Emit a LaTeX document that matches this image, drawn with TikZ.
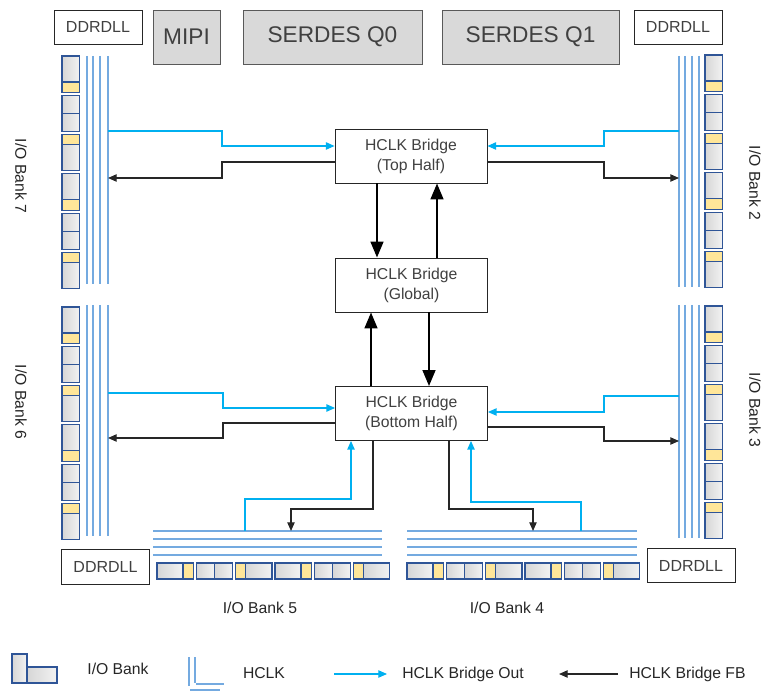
\documentclass[tikz,border=0pt]{standalone}
\usepackage{fontspec}
\setmainfont{Liberation Sans}
\usetikzlibrary{arrows.meta}
\definecolor{cellbd}{RGB}{47,85,151}
\definecolor{celly}{RGB}{255,230,153}
\definecolor{hclkc}{RGB}{116,170,224}
\definecolor{outc}{RGB}{0,176,240}
\definecolor{fbc}{RGB}{38,38,38}
\definecolor{txtc}{RGB}{64,64,64}
\definecolor{blockf}{RGB}{217,217,217}
\definecolor{blockd}{RGB}{89,89,89}
\newcommand\cellrun{0/26/gcell,26/36.3/ycell,39.3/57.45/gcell,57.45/75.6/gcell,78.6/88.6/ycell,88.6/114.9/gcell,117.9/143.9/gcell,143.9/154.2/ycell,157.2/175.35/gcell,175.35/193.5/gcell,196.5/206.5/ycell,206.5/232.8/gcell}
\newcommand\vbank[2]{\foreach \a/\b/\c in \cellrun {\draw[\c] (#1,#2+\a) rectangle (#1+17.5,#2+\b);}}
\newcommand\hbank[2]{\foreach \a/\b/\c in \cellrun {\draw[\c] (#1+\a,#2) rectangle (#1+\b,#2+16);}}
\begin{document}
\begin{tikzpicture}[x=0.75pt,y=-0.75pt,
    gcell/.style={draw=cellbd,line width=0.9pt,left color=gray!32,right color=gray!10},
    ycell/.style={draw=cellbd,line width=0.9pt,fill=celly},
    hclk/.style={draw=hclkc,line width=0.8pt},
    bout/.style={draw=outc,line width=0.9pt,-{Triangle[length=6.5pt,width=5.5pt]}},
    bfb/.style={draw=fbc,line width=0.9pt,-{Triangle[length=6.5pt,width=5.5pt]}},
    gfb/.style={draw=black,line width=1.8pt,-{Triangle[length=12pt,width=9.5pt]}},
    bridge/.style={draw=fbc,fill=white,line width=0.6pt,minimum width=114pt,minimum height=40.5pt,
        inner sep=0pt,align=center,text=txtc,font=\fontsize{11.8}{15}\selectfont},
    dll/.style={draw=fbc,fill=white,line width=0.6pt,minimum width=66pt,minimum height=26pt,
        inner sep=0pt,text=txtc,font=\fontsize{12}{14}\selectfont},
    block/.style={draw=blockd,fill=blockf,line width=0.7pt,minimum height=40.5pt,
        inner sep=0pt,text=txtc,font=\fontsize{17}{20}\selectfont},
    lbl/.style={text=black!85,font=\fontsize{11.8}{15}\selectfont,inner sep=0pt}]
\useasboundingbox (0,0) rectangle (764,691);

\node[dll] (dll7) at (98,27.5) {DDRDLL};
\node[dll] (dll2) at (678,27.5) {DDRDLL};
\node[dll] (dll6) at (105.5,567) {DDRDLL};
\node[dll] (dll3) at (691,565.5) {DDRDLL};
\node[block,minimum width=50.25pt] (mipi) at (186.5,37) {MIPI};
\node[block,minimum width=134.25pt] (sq0) at (332.5,37) {SERDES Q0};
\node[block,minimum width=132.75pt] (sq1) at (530.5,37) {SERDES Q1};

\vbank{62}{56}
\vbank{62}{307}
\vbank{705}{55}
\vbank{705}{306}
\hbank{157}{563}
\hbank{407}{563}
\foreach \x in {87,93,100,108} {\draw[hclk] (\x,56) -- (\x,284); \draw[hclk] (\x,305) -- (\x,536);}
\foreach \x in {679,685,692,699} {\draw[hclk] (\x,56) -- (\x,287); \draw[hclk] (\x,305) -- (\x,538);}
\foreach \y in {531,539,547,555} {\draw[hclk] (153,\y) -- (382,\y); \draw[hclk] (407,\y) -- (637,\y);}

\node[lbl,rotate=-90] (lb7) at (21,176) {I/O Bank 7};
\node[lbl,rotate=-90] (lb6) at (21,402) {I/O Bank 6};
\node[lbl,rotate=-90] (lb2) at (755,183) {I/O Bank 2};
\node[lbl,rotate=-90] (lb3) at (755,410) {I/O Bank 3};
\node[lbl] (lb5) at (260,608) {I/O Bank 5};
\node[lbl] (lb4) at (507,608) {I/O Bank 4};

\node[bridge] (top) at (411,156) {HCLK Bridge\\(Top Half)};
\node[bridge] (glob) at (411.5,285) {HCLK Bridge\\(Global)};
\node[bridge] (bot) at (411.5,413.5) {HCLK Bridge\\(Bottom Half)};

\coordinate (h7o) at (108,131); \coordinate (h7f) at (108,178);
\coordinate (h2o) at (679,131); \coordinate (h2f) at (679,178);
\coordinate (h6o) at (108,393); \coordinate (h6f) at (108,438);
\coordinate (h3o) at (679,396); \coordinate (h3f) at (679,441);
\coordinate (h5o) at (245,531); \coordinate (h5f) at (291,531);
\coordinate (h4o) at (581,531); \coordinate (h4f) at (533,531);

\draw[bout] (h7o) -| (222,146) -- (top.west |- 0,146);
\draw[bfb] (top.west |- 0,162) -| (222,178) -- (h7f);
\draw[bout] (h2o) -| (604,146) -- (top.east |- 0,146);
\draw[bfb] (top.east |- 0,162) -| (604,178) -- (h2f);
\draw[bout] (h6o) -| (223,408) -- (bot.west |- 0,408);
\draw[bfb] (bot.west |- 0,423) -| (223,438) -- (h6f);
\draw[bout] (h3o) -| (604,412) -- (bot.east |- 0,412);
\draw[bfb] (bot.east |- 0,427) -| (604,441) -- (h3f);
\draw[bout] (h5o) |- (351,499) -- (bot.south -| 351,0);
\draw[bfb] (bot.south -| 373,0) |- (291,509) -- (h5f);
\draw[bout] (h4o) |- (471,502) -- (bot.south -| 471,0);
\draw[bfb] (bot.south -| 449,0) |- (533,509) -- (h4f);
\draw[gfb] (top.south -| 377,0) -- (glob.north -| 377,0);
\draw[gfb] (glob.north -| 437,0) -- (top.south -| 437,0);
\draw[gfb] (bot.north -| 371,0) -- (glob.south -| 371,0);
\draw[gfb] (glob.south -| 429,0) -- (bot.north -| 429,0);

\draw[gcell] (12,654) rectangle (27,683);
\draw[gcell] (27,667) rectangle (57,683);
\node[lbl] (kbank) at (118,669) {I/O Bank};
\draw[hclk] (189,657) -- (189,686);
\draw[hclk] (195,657) -- (195,683);
\draw[hclk] (196,684) -- (224,684);
\draw[hclk] (190,690) -- (220,690);
\node[lbl] (khclk) at (264,673) {HCLK};
\coordinate (ko1) at (334,674); \coordinate (ko2) at (387,674);
\draw[bout] (ko1) -- (ko2);
\node[lbl,anchor=west] (kout) at (402,674) {HCLK Bridge Out};
\coordinate (kf1) at (618,674); \coordinate (kf2) at (559,674);
\draw[bfb] (kf1) -- (kf2);
\node[lbl,anchor=west] (kfb) at (629,674) {HCLK Bridge FB};
\end{tikzpicture}
\end{document}
